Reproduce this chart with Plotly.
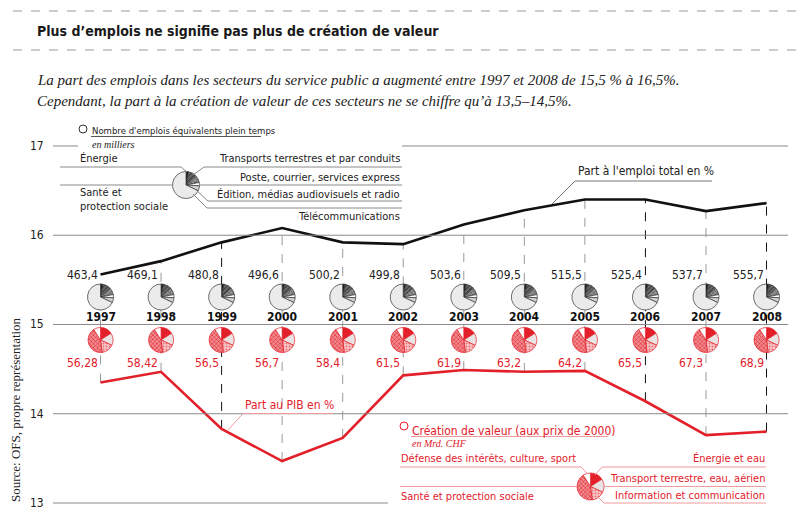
import plotly.graph_objects as go

# ---------------- data ----------------
years = list(range(1997, 2009))
emp_share = [15.56, 15.71, 15.92, 16.08, 15.92, 15.90, 16.12, 16.28, 16.40, 16.40, 16.27, 16.36]
gdp_share = [14.35, 14.47, 13.83, 13.47, 13.73, 14.43, 14.49, 14.47, 14.48, 14.14, 13.76, 13.80]
emp_labels = ["463,4", "469,1", "480,8", "496,6", "500,2", "499,8",
              "503,6", "509,5", "515,5", "525,4", "537,7", "555,7"]
val_labels = ["56,28", "58,42", "56,5", "56,7", "58,4", "61,5",
              "61,9", "63,2", "64,2", "65,5", "67,3", "68,9"]
dark_dash_years = [1999, 2006, 2008]

emp_sectors = ["Énergie", "Transports terrestres et par conduits", "Poste, courrier, services express",
               "Édition, médias audiovisuels et radio", "Télécommunications", "Santé et protection sociale"]
emp_shares = [3, 10, 9, 4, 6, 68]
val_sectors = ["Énergie et eau", "Transport terrestre, eau, aérien", "Information et communication",
               "Santé et protection sociale", "Défense des intérêts, culture, sport"]
val_shares = [16, 16, 16, 43, 9]
y_ticks = [13, 14, 15, 16, 17]

# ---------------- style ----------------
W, H = 800, 523
COND = "DejaVu Sans Condensed, Roboto, sans-serif"
SERIF = "Liberation Serif, serif"
RED = "#e3202a"
LRED = "#f09a9c"
GRID = "#8a8a8a"
X0, X1 = 1996.2485, 2008.140   # x range  (plot area 55..775 px)
Y0, Y1 = 12.9216, 17.179       # y range  (plot area 130..510 px)
PL, PR, PT, PB = 55, 775, 130, 510


def PX(x):
    return x / W


def PY(y):
    return 1 - y / H


def xpix(v):
    return PL + (v - X0) / (X1 - X0) * (PR - PL)


def ypix(v):
    return PB - (v - Y0) / (Y1 - Y0) * (PB - PT)


shapes = []
annotations = []


def seg(x0, y0, x1, y1, color=GRID, width=1, dash=None):
    shapes.append(dict(type="line", xref="paper", yref="paper", x0=PX(x0), y0=PY(y0),
                       x1=PX(x1), y1=PY(y1), line=dict(color=color, width=width, dash=dash),
                       layer="above"))


def txt(x, y, s, size=11, color="#222", anchor="left", family=COND, **kw):
    annotations.append(dict(x=PX(x), y=PY(y), xref="paper", yref="paper", text=s, showarrow=False,
                            xanchor=anchor, yanchor="middle",
                            font=dict(size=size, color=color, family=family), **kw))


def circle(cx, cy, r, color):
    shapes.append(dict(type="circle", xref="paper", yref="paper", x0=PX(cx - r), x1=PX(cx + r),
                       y0=PY(cy + r), y1=PY(cy - r), line=dict(color=color, width=1)))


fig = go.Figure()

# gridlines
for t in y_ticks:
    yp = ypix(t)
    if t == 17:
        seg(53, yp, 78, yp)
        seg(402, yp, 788, yp)
    elif t == 13:
        seg(53, yp, 388, yp)
    else:
        seg(53, yp, 788, yp)
    txt(46, yp, str(t), size=12, color="#222", anchor="right")

# dashed verticals
for yr, e, g in zip(years, emp_share, gdp_share):
    dark = yr in dark_dash_years
    shapes.append(dict(type="line", xref="x", yref="y", x0=yr, x1=yr, y0=g, y1=e,
                       line=dict(color="#111" if dark else "#999", width=1, dash="dash"),
                       layer="below"))

# lines
fig.add_trace(go.Scatter(x=years, y=emp_share, mode="lines", line=dict(color="#111", width=2.6),
                         hoverinfo="skip", showlegend=False))
fig.add_trace(go.Scatter(x=years, y=gdp_share, mode="lines", line=dict(color=RED, width=2.6),
                         hoverinfo="skip", showlegend=False))

# pie styling
emp_colors = ["#1a1a1a", "#6e6e6e", "#959595", "#ffffff", "#d2d2d2", "#ebebeb"]
emp_pat = ["", "/", "x", "", "", ""]
emp_fg = ["#1a1a1a", "#2a2a2a", "#444444", "#ffffff", "#d2d2d2", "#ebebeb"]
val_colors = [RED, "#e9e3e3", "#f8cacc", "#f28a8e", "#ffffff"]
val_pat = ["", "", ".", "x", ""]
val_fg = [RED, "#e9e3e3", "#ee6d72", "#d8141e", "#ffffff"]


def add_pie(cx, cy, r, values, colors, pat, fg, lc):
    fig.add_trace(go.Pie(values=values, sort=False, direction="clockwise", rotation=0,
                         domain=dict(x=[PX(cx - r), PX(cx + r)], y=[PY(cy + r), PY(cy - r)]),
                         marker=dict(colors=colors, line=dict(color=lc, width=0.7),
                                     pattern=dict(shape=pat, fgcolor=fg, bgcolor=colors,
                                                  fillmode="replace", size=3, solidity=0.3)),
                         textinfo="none", textposition="none", hoverinfo="skip",
                         showlegend=False))


for yr, el, vl in zip(years, emp_labels, val_labels):
    cx = xpix(yr)
    add_pie(cx, 297, 13, emp_shares, emp_colors, emp_pat, emp_fg, "#333")
    add_pie(cx, 340, 12.5, val_shares, val_colors, val_pat, val_fg, RED)
    txt(cx - 1, 275, el, size=12, color="#222", anchor="right")
    txt(cx, 317, f"<b>{yr}</b>", size=12, color="#111", anchor="center")
    txt(cx - 1, 363, vl, size=12, color=RED, anchor="right")

# line labels
txt(576, 171, "Part à l'emploi total en %", size=12, color="#222")
seg(575, 181, 712, 181, color="#777")
seg(575, 181, 552, 204, color="#777")
txt(243, 405, "Part au PIB en %", size=12, color=RED)
seg(243, 413.5, 333, 413.5, color=LRED)
seg(243, 413.5, 228, 430, color=LRED)

# ---------- top legend ----------
circle(83, 129, 4, "#333")
txt(90, 130, "Nombre d'emplois équivalents plein temps", size=9.5, color="#222")
seg(91, 136.5, 261, 136.5, color="#555")
txt(90, 144, "<i>en milliers</i>", size=10, color="#222", family=SERIF)
lcx, lcy = 186, 185
add_pie(lcx, lcy, 13.5, emp_shares, emp_colors, emp_pat, emp_fg, "#333")
txt(78, 158, emp_sectors[0], size=11)
seg(60, 167, 181, 167)
seg(181, 167, 187, 172)
txt(78, 192, "Santé et", size=11)
txt(78, 206, "protection sociale", size=11)
seg(60, 185, 172.5, 185)
txt(402, 158, emp_sectors[1], size=11, anchor="right")
seg(193, 175, 204, 167)
seg(204, 167, 402, 167)
txt(402, 177, emp_sectors[2], size=11, anchor="right")
seg(199.5, 185, 402, 185)
txt(402, 194, emp_sectors[3], size=11, anchor="right")
seg(196, 190, 208, 201)
seg(208, 201, 402, 201)
txt(402, 216, emp_sectors[4], size=11, anchor="right")
seg(193, 194, 207, 208)
seg(207, 208, 402, 208)

# ---------- bottom legend ----------
circle(404, 426, 4, RED)
txt(410, 431, "Création de valeur (aux prix de 2000)", size=12, color=RED)
seg(411, 436.5, 608, 436.5, color=LRED)
txt(410, 443, "<i>en Mrd. CHF</i>", size=10, color=RED, family=SERIF)
bcx, bcy = 590.5, 486.5
add_pie(bcx, bcy, 13.5, val_shares, val_colors, val_pat, val_fg, RED)
txt(399, 458, val_sectors[4], size=11, color=RED)
seg(400, 467, 581, 467, color=LRED)
seg(581, 467, 588, 474, color=LRED)
txt(399, 496, val_sectors[3], size=11, color=RED)
seg(400, 486.5, 577, 486.5, color=LRED)
txt(767, 458, val_sectors[0], size=11, color=RED, anchor="right")
seg(595, 475, 602, 467, color=LRED)
seg(602, 467, 766, 467, color=LRED)
txt(767, 478, val_sectors[1], size=11, color=RED, anchor="right")
seg(604, 486.5, 766, 486.5, color=LRED)
txt(767, 495, val_sectors[2], size=11, color=RED, anchor="right")
seg(598, 497, 604, 503, color=LRED)
seg(604, 503, 766, 503, color=LRED)

# ---------- titles ----------
seg(13, 11, 800, 11, color="#999", dash="dash")
txt(35, 31, "<b>Plus d’emplois ne signifie pas plus de création de valeur</b>", size=14, color="#1a1a1a")
seg(13, 50, 800, 50, color="#999", dash="dash")
txt(35, 80, "<i>La part des emplois dans les secteurs du service public a augmenté entre 1997 et 2008 de 15,5 % à 16,5%.</i>",
    size=15, color="#222", family=SERIF)
txt(35, 101, "<i>Cependant, la part à la création de valeur de ces secteurs ne se chiffre qu’à 13,5–14,5%.</i>",
    size=15, color="#222", family=SERIF)
annotations.append(dict(x=PX(15), y=PY(410), xref="paper", yref="paper",
                        text="Source: OFS, propre représentation", showarrow=False, textangle=-90,
                        xanchor="center", yanchor="middle",
                        font=dict(size=13, color="#222", family=SERIF)))

fig.update_layout(
    width=W, height=H, margin=dict(l=0, r=0, t=0, b=0),
    paper_bgcolor="white", plot_bgcolor="white",
    xaxis=dict(range=[X0, X1], domain=[PL / W, PR / W], visible=False, fixedrange=True),
    yaxis=dict(range=[Y0, Y1], domain=[1 - PB / H, 1 - PT / H], visible=False, fixedrange=True),
    shapes=shapes, annotations=annotations, showlegend=False,
)

fig.write_html("out.html")
